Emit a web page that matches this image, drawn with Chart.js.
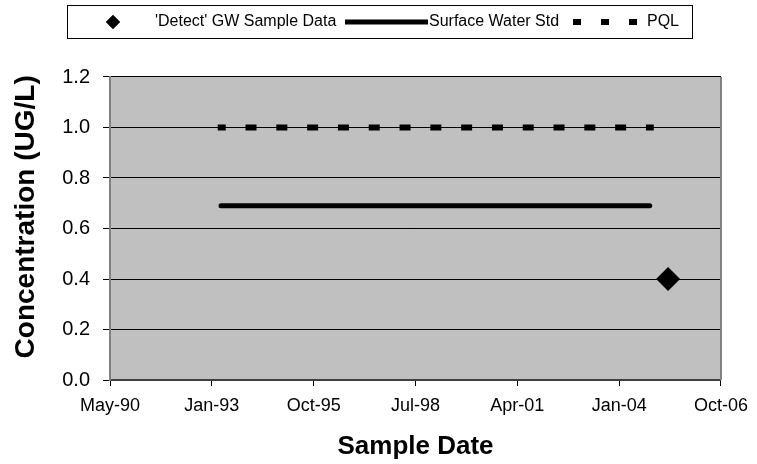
<!DOCTYPE html>
<html>
<head>
<meta charset="utf-8">
<script src="https://cdn.jsdelivr.net/npm/chart.js@4.4.0/dist/chart.umd.min.js"></script>
<style>
  html, body { margin: 0; padding: 0; background: #fff; }
</style>
</head>
<body>
<canvas id="chart" width="757" height="464"></canvas>
<script>
// x values are Excel day serials (33000 = 6 May 1990), ticks every 1000 days
const xTickLabels = ["May-90", "Jan-93", "Oct-95", "Jul-98", "Apr-01", "Jan-04", "Oct-06"];
const yTickLabels = ["0.0", "0.2", "0.4", "0.6", "0.8", "1.0", "1.2"];

const detectDates = [38480];
const detectValues = [0.4];

const swStdDates = [34090, 38300];
const swStdValues = [0.69, 0.69];

const pqlDates = [34058, 38340];
const pqlValues = [1.0, 1.0];

const toPoints = (xs, ys) => xs.map((x, i) => ({ x: x, y: ys[i] }));

Chart.defaults.font.family = "'Liberation Sans', Arial, sans-serif";
Chart.defaults.color = "#000";

// grey plot background + right edge
const plotBackground = {
  id: "plotBackground",
  beforeDraw(chart) {
    const { ctx, chartArea: a } = chart;
    ctx.save();
    ctx.fillStyle = "#c0c0c0";
    ctx.fillRect(a.left, a.top, a.right - a.left, a.bottom - a.top);
    ctx.restore();
  },
  afterDraw(chart) {
    const { ctx, chartArea: a } = chart;
    ctx.save();
    ctx.strokeStyle = "#808080";
    ctx.lineWidth = 2;
    ctx.beginPath();
    ctx.moveTo(a.right, a.top);
    ctx.lineTo(a.right, a.bottom);
    ctx.stroke();
    ctx.restore();
  }
};

// boxed legend across the top, like the Excel one
const boxLegend = {
  id: "boxLegend",
  afterDraw(chart) {
    const ctx = chart.ctx;
    const ds = chart.data.datasets;
    const midY = 22;
    ctx.save();
    ctx.strokeStyle = "#000";
    ctx.lineWidth = 1;
    ctx.strokeRect(67.5, 5.5, 625, 33);

    ctx.font = "16px 'Liberation Sans', Arial, sans-serif";
    ctx.fillStyle = "#000";
    ctx.textBaseline = "middle";
    ctx.textAlign = "left";

    // diamond
    Chart.helpers.drawPoint(ctx, { pointStyle: "rectRot", radius: 7, borderWidth: 0 }, 113, midY);
    ctx.fill();
    ctx.fillText(ds[0].label, 155, midY);

    // solid line
    ctx.lineWidth = 5;
    ctx.lineCap = "butt";
    ctx.beginPath();
    ctx.moveTo(345, midY);
    ctx.lineTo(428, midY);
    ctx.stroke();
    ctx.fillText(ds[1].label, 429, midY);

    // dashed
    ctx.lineWidth = 6;
    ctx.setLineDash([8, 20]);
    ctx.beginPath();
    ctx.moveTo(573, midY);
    ctx.lineTo(638, midY);
    ctx.stroke();
    ctx.setLineDash([]);
    ctx.fillText(ds[2].label, 647, midY);
    ctx.restore();
  }
};

new Chart(document.getElementById("chart"), {
  type: "scatter",
  data: {
    datasets: [
      {
        label: "'Detect' GW Sample Data",
        data: toPoints(detectDates, detectValues),
        pointStyle: "rectRot",
        pointRadius: 12,
        backgroundColor: "#000",
        borderColor: "#000",
        borderWidth: 0,
        order: 0
      },
      {
        label: "Surface Water Std",
        type: "line",
        data: toPoints(swStdDates, swStdValues),
        showLine: true,
        borderColor: "#000",
        borderWidth: 5,
        borderCapStyle: "round",
        pointRadius: 0,
        fill: false,
        order: 1
      },
      {
        label: "PQL",
        type: "line",
        data: toPoints(pqlDates, pqlValues),
        showLine: true,
        borderColor: "#000",
        borderWidth: 6,
        borderDash: [11, 19.8],
        borderDashOffset: 3,
        borderCapStyle: "butt",
        pointRadius: 0,
        fill: false,
        order: 2
      }
    ]
  },
  options: {
    responsive: false,
    animation: false,
    layout: { padding: { top: 77, right: 32, left: 0, bottom: 0 } },
    plugins: {
      legend: { display: false },
      tooltip: { enabled: false }
    },
    scales: {
      x: {
        type: "linear",
        min: 33000,
        max: 39000,
        afterFit(scale) { scale.height = 84; },
        afterBuildTicks(scale) {
          scale.ticks = xTickLabels.map((_, i) => ({ value: 33000 + i * 1000 }));
        },
        ticks: {
          callback: (v, i) => xTickLabels[i],
          font: { size: 18 },
          padding: 9,
          maxRotation: 0,
          autoSkip: false
        },
        grid: {
          drawOnChartArea: false,
          drawTicks: true,
          tickLength: 6,
          tickColor: "#000"
        },
        border: { color: "#404040", width: 2 },
        title: {
          display: true,
          text: "Sample Date",
          font: { size: 26, weight: "bold" },
          padding: { top: 0, bottom: 2 }
        }
      },
      y: {
        min: 0,
        max: 1.2,
        afterFit(scale) { scale.width = 110; },
        afterBuildTicks(scale) {
          scale.ticks = yTickLabels.map((_, i) => ({ value: i * 0.2 }));
        },
        ticks: {
          callback: (v, i) => yTickLabels[i],
          font: { size: 20 },
          padding: 13
        },
        grid: {
          color: "#000",
          lineWidth: 1,
          tickLength: 7,
          tickColor: "#000"
        },
        border: { color: "#808080", width: 2 },
        title: {
          display: true,
          // leading spaces nudge the rotated title up a little, as in the original
          text: "   Concentration (UG/L)",
          font: { size: 28, weight: "bold" },
          padding: { top: 9, bottom: 0 }
        }
      }
    }
  },
  plugins: [plotBackground, boxLegend]
});
</script>
</body>
</html>
